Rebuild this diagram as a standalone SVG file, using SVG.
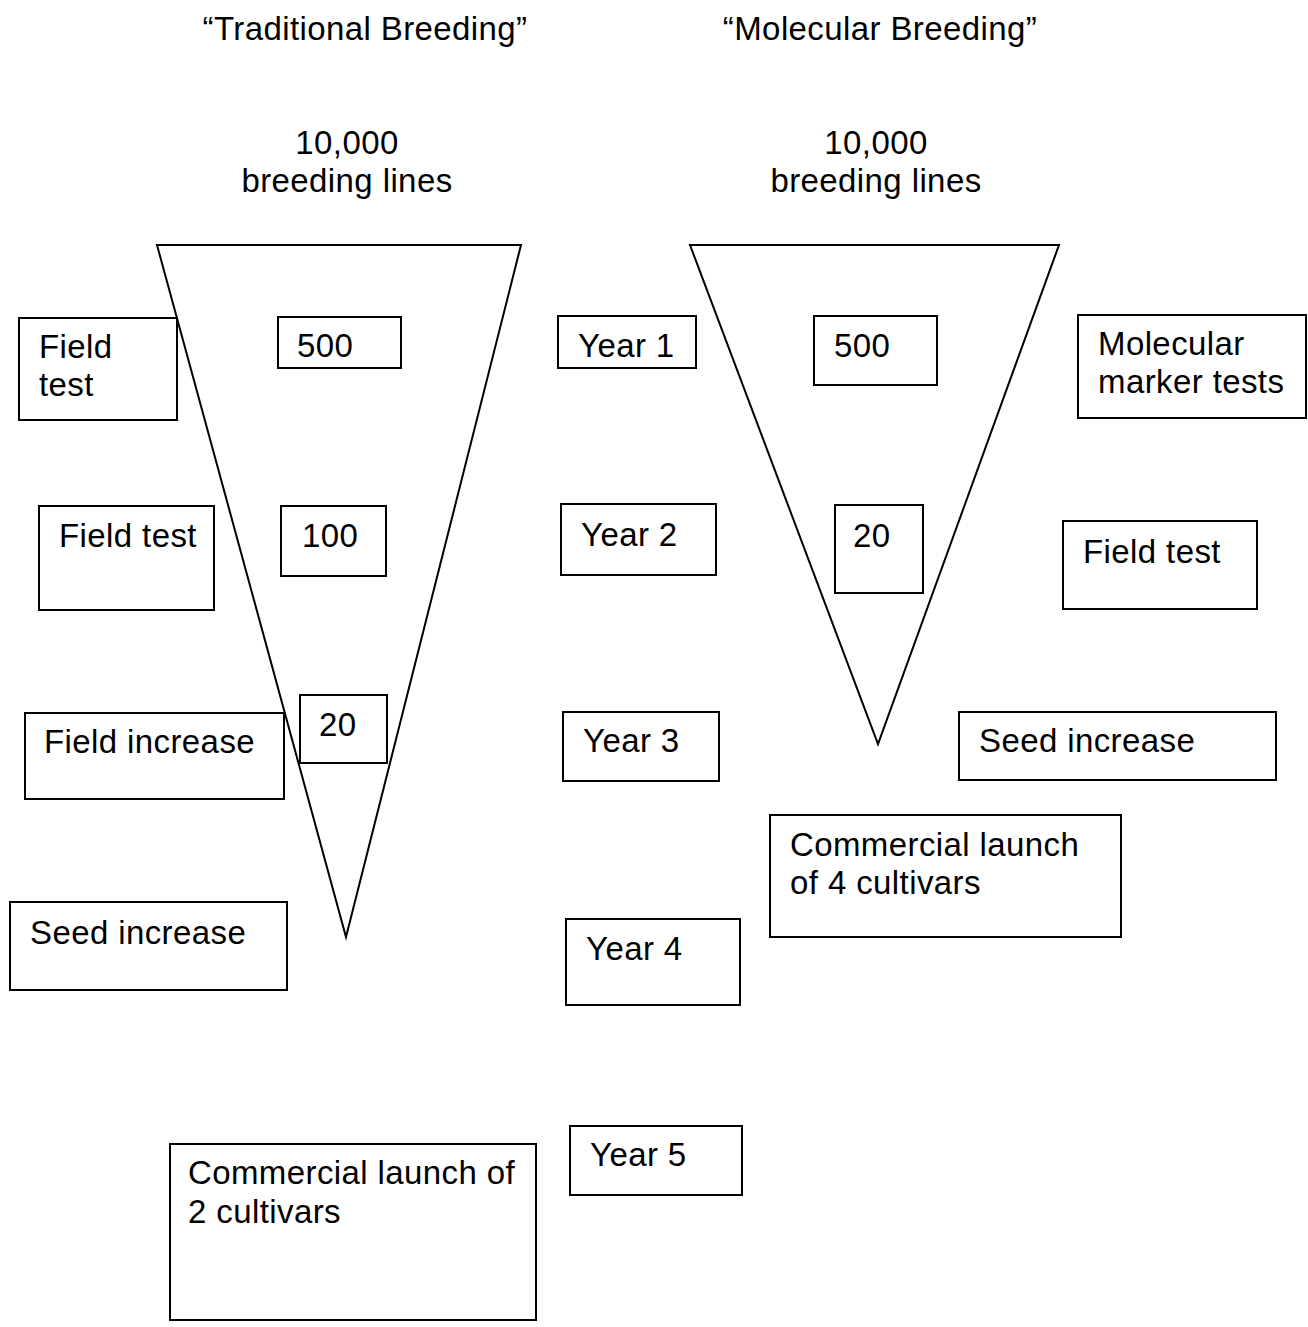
<svg xmlns="http://www.w3.org/2000/svg" width="1308" height="1327" viewBox="0 0 1308 1327">
  <style>
    text { font-family: "Liberation Sans", Arial, sans-serif; font-size: 33px; letter-spacing: 0.4px; fill: #000; }
    .mid { text-anchor: middle; }
    .box { fill: none; stroke: #000; stroke-width: 2; }
    .funnel { fill: none; stroke: #000; stroke-width: 2; stroke-linejoin: miter; }
  </style>
  <rect width="1308" height="1327" fill="#fff"/>

  <!-- column headings -->
  <g id="headings">
    <text x="365" y="40" class="mid">“Traditional Breeding”</text>
    <text x="880" y="40" class="mid">“Molecular Breeding”</text>
    <text x="347" y="154" class="mid">10,000</text>
    <text x="347" y="192" class="mid">breeding lines</text>
    <text x="876" y="154" class="mid">10,000</text>
    <text x="876" y="192" class="mid">breeding lines</text>
  </g>

  <!-- selection funnels -->
  <g id="connectors">
    <polygon id="funnel-traditional" class="funnel" points="157,245 521,245 346,937"/>
    <polygon id="funnel-molecular" class="funnel" points="690,245 1059,245 878,744"/>
  </g>

  <!-- traditional breeding column -->
  <g id="trad-field-test-1"><rect class="box" x="19" y="318" width="158" height="102"/><text x="39" y="358">Field</text><text x="39" y="396">test</text></g>
  <g id="trad-500"><rect class="box" x="278" y="317" width="123" height="51"/><text x="297" y="357">500</text></g>
  <g id="trad-field-test-2"><rect class="box" x="39" y="506" width="175" height="104"/><text x="59" y="547">Field test</text></g>
  <g id="trad-100"><rect class="box" x="281" y="506" width="105" height="70"/><text x="302" y="547">100</text></g>
  <g id="trad-field-increase"><rect class="box" x="25" y="713" width="259" height="86"/><text x="44" y="753">Field increase</text></g>
  <g id="trad-20"><rect class="box" x="300" y="695" width="87" height="68"/><text x="319" y="736">20</text></g>
  <g id="trad-seed-increase"><rect class="box" x="10" y="902" width="277" height="88"/><text x="30" y="944">Seed increase</text></g>
  <g id="trad-launch"><rect class="box" x="170" y="1144" width="366" height="176"/><text x="188" y="1184">Commercial launch of</text><text x="188" y="1223">2 cultivars</text></g>

  <!-- year timeline -->
  <g id="year-1"><rect class="box" x="558" y="316" width="138" height="52"/><text x="578" y="357">Year 1</text></g>
  <g id="year-2"><rect class="box" x="561" y="504" width="155" height="71"/><text x="581" y="546">Year 2</text></g>
  <g id="year-3"><rect class="box" x="563" y="712" width="156" height="69"/><text x="583" y="752">Year 3</text></g>
  <g id="year-4"><rect class="box" x="566" y="919" width="174" height="86"/><text x="586" y="960">Year 4</text></g>
  <g id="year-5"><rect class="box" x="570" y="1126" width="172" height="69"/><text x="590" y="1166">Year 5</text></g>

  <!-- molecular breeding column -->
  <g id="mol-500"><rect class="box" x="814" y="316" width="123" height="69"/><text x="834" y="357">500</text></g>
  <g id="mol-marker-tests"><rect class="box" x="1078" y="315" width="228" height="103"/><text x="1098" y="355">Molecular</text><text x="1098" y="393">marker tests</text></g>
  <g id="mol-20"><rect class="box" x="835" y="505" width="88" height="88"/><text x="853" y="547">20</text></g>
  <g id="mol-field-test"><rect class="box" x="1063" y="521" width="194" height="88"/><text x="1083" y="563">Field test</text></g>
  <g id="mol-seed-increase"><rect class="box" x="959" y="712" width="317" height="68"/><text x="979" y="752">Seed increase</text></g>
  <g id="mol-launch"><rect class="box" x="770" y="815" width="351" height="122"/><text x="790" y="856">Commercial launch</text><text x="790" y="894">of 4 cultivars</text></g>
</svg>
